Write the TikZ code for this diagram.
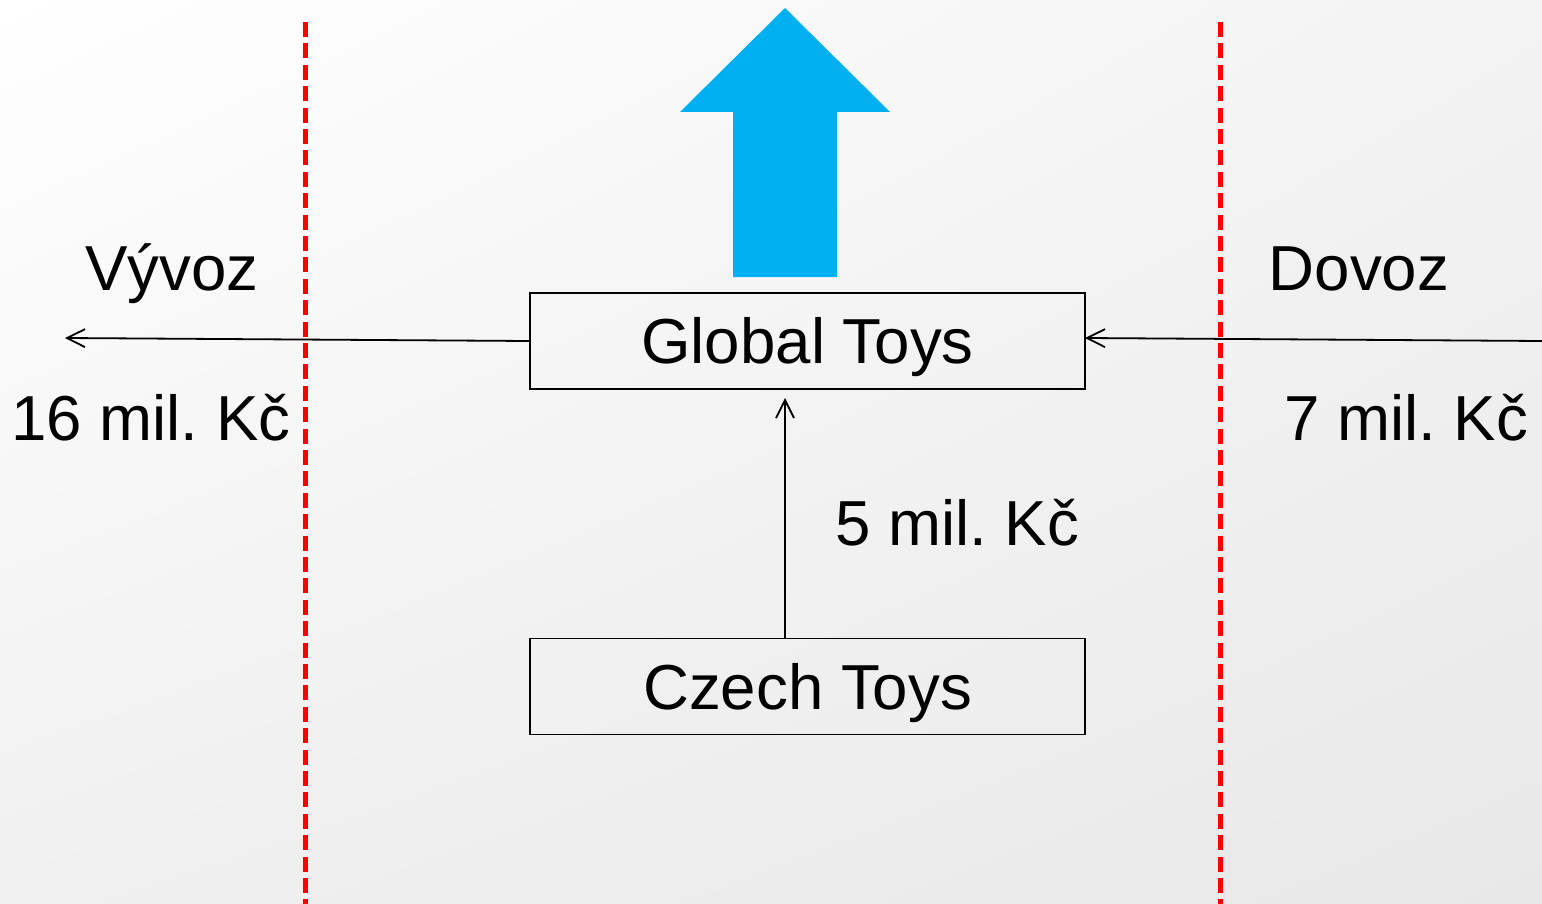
\documentclass[tikz,border=0pt]{standalone}
\usepackage{fontspec}
\setmainfont{Liberation Sans}
\usetikzlibrary{arrows.meta,shadings}
\definecolor{skyblue}{HTML}{00B0F0}
\definecolor{bgA}{HTML}{FFFFFF}
\definecolor{bgB}{HTML}{F3F3F3}
\definecolor{bgC}{HTML}{F0F0F0}
\definecolor{bgD}{HTML}{E8E8E8}
\frenchspacing
\begin{document}
\begin{tikzpicture}[x=0.5pt,y=-0.5pt,
  lbl/.style={anchor=base,inner sep=0pt,font=\fontsize{31.8}{38}\selectfont},
  boxnode/.style={draw=black,line width=0.75pt,minimum width=277.5pt,minimum height=48pt,inner sep=0pt,text height=22.8pt,text depth=0pt,fill=none,font=\fontsize{31.8}{38}\selectfont},
  flow/.style={draw=black,line width=0.9pt,-{Straight Barb[length=9pt,width=9pt,line width=0.9pt]}},
  border/.style={draw=red,line width=2.5pt,dash pattern=on 7.5pt off 3.2pt}]
\shade[upper left=bgA,upper right=bgB,lower left=bgC,lower right=bgD] (0,0) rectangle (1542,904);
\useasboundingbox (0,0) rectangle (1542,904);
% border lines
\draw[border] (305,22) -- (305,904);
\draw[border] (1220,22) -- (1220,904);
% big arrow
\fill[skyblue] (785,8) -- (890,112) -- (837,112) -- (837,277) -- (733,277) -- (733,112) -- (680,112) -- cycle;
% boxes
\node[boxnode] (global) at (807.5,341) {Global Toys};
\node[boxnode] (czech) at (807.5,686.5) {Czech Toys};
% free ends
\coordinate (west) at (65,338);
\coordinate (east) at (1542,341);
\coordinate (gin) at (1085,338);
\coordinate (gtop) at (785,398);
\coordinate (cbot) at (785,638);
% connectors
\draw[flow] (global.west) -- (west);
\draw[flow] (east) -- (gin);
\draw[flow] (cbot) -- (gtop);
% labels
\node[lbl] (vyvoz) at (172,290) {Vývoz};
\node[lbl] (vyvozv) at (151,440) {16 mil. Kč};
\node[lbl] (dovoz) at (1359,290) {Dovoz};
\node[lbl] (dovozv) at (1406,440) {7 mil. Kč};
\node[lbl] (domv) at (957,545) {5 mil. Kč};
\end{tikzpicture}
\end{document}
